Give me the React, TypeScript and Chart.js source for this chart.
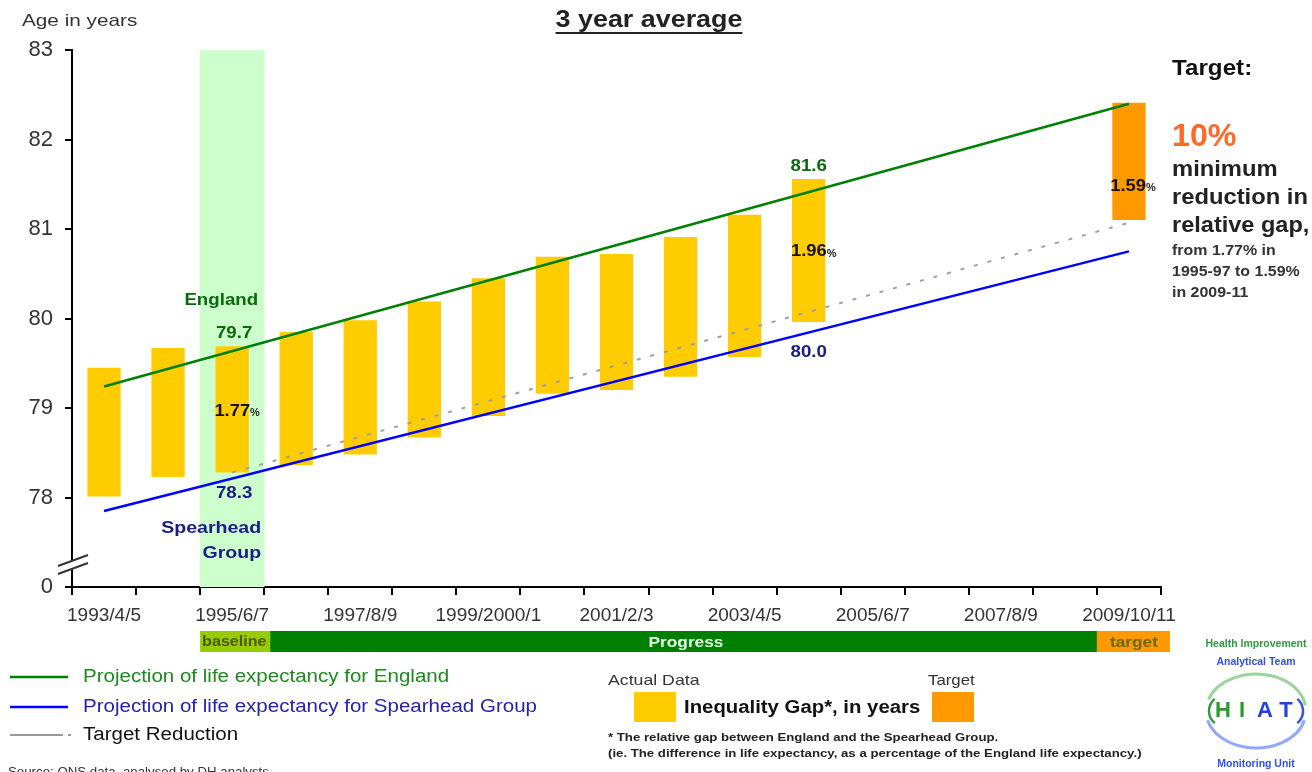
import React, { useEffect, useRef } from "react";
import { Chart, registerables } from "chart.js";

Chart.register(...registerables);

const FONT = "'Liberation Sans', Arial, Helvetica, sans-serif";

// ---- data ----
const periods: string[] = [
  "1993/4/5", "1994/5/6", "1995/6/7", "1996/7/8", "1997/8/9", "1998/9/2000",
  "1999/2000/1", "2000/1/2", "2001/2/3", "2002/3/4", "2003/4/5", "2004/5/6",
  "2005/6/7", "2006/7/8", "2007/8/9", "2008/9/10", "2009/10/11",
];
// Actual data: England (top) and Spearhead Group (bottom) life expectancy, 1993/4/5 .. 2004/5/6
const spearheadActual: number[] = [78.01, 78.23, 78.28, 78.36, 78.48, 78.67, 78.91, 79.16, 79.2, 79.35, 79.57, 79.96];
const englandActual: number[] = [79.45, 79.67, 79.69, 79.85, 79.98, 80.19, 80.45, 80.69, 80.72, 80.91, 81.16, 81.56];
// Target bar 2009/10/11
const targetLow: number[] = [81.1];
const targetHigh: number[] = [82.41];
// Projection lines (start / end values)
const englandProjection: (number | null)[] = [79.24, null, null, null, null, null, null, null, null, null, null, null, null, null, null, null, 82.4];
const spearheadProjection: (number | null)[] = [77.85, null, null, null, null, null, null, null, null, null, null, null, null, null, null, null, 80.75];
const targetReduction: (number | null)[] = [null, null, 78.28, null, null, null, null, null, null, null, null, null, null, null, null, null, 81.07];
// Relative gap labels
const relativeGapLabels: string[] = ["1.77", "1.96", "1.59"];
const baselineIndex = 2;
const latestIndex = 11;
const targetIndex = 16;
const yTicks: number[] = [77, 78, 79, 80, 81, 82, 83];

const gapData = periods.map((_, i) => (i < englandActual.length ? [spearheadActual[i], englandActual[i]] : null));
const targetData = periods.map((_, i) => (i === targetIndex ? [targetLow[0], targetHigh[0]] : null));
const baselineBand = periods.map((_, i) => (i === baselineIndex ? [yTicks[0], yTicks[yTicks.length - 1]] : null));

function txt(
  ctx: CanvasRenderingContext2D, s: string, x: number, y: number, font: string, color: string,
  align: CanvasTextAlign = "left", sx = 1, baseline: CanvasTextBaseline = "middle"
) {
  ctx.save();
  ctx.font = font;
  ctx.fillStyle = color;
  ctx.textAlign = align;
  ctx.textBaseline = baseline;
  ctx.translate(x, y);
  ctx.scale(sx, 1);
  ctx.fillText(s, 0, 0);
  ctx.restore();
}

function pct(ctx: CanvasRenderingContext2D, num: string, cx: number, cy: number) {
  ctx.save();
  ctx.font = `bold 17px ${FONT}`;
  const w1 = ctx.measureText(num).width * 1.08;
  ctx.font = `bold 11px ${FONT}`;
  const w2 = ctx.measureText("%").width;
  const start = cx - (w1 + w2) / 2;
  ctx.restore();
  txt(ctx, num, start, cy, `bold 17px ${FONT}`, "#111", "left", 1.08);
  txt(ctx, "%", start + w1, cy + 2, `bold 11px ${FONT}`, "#222", "left", 1);
}

const overlay = {
  id: "overlay",
  afterDraw(chart: any) {
    const ctx: CanvasRenderingContext2D = chart.ctx;
    const xs = chart.scales.x;
    const ys = chart.scales.y;
    const area = chart.chartArea;
    const px = (i: number) => xs.getPixelForValue(i);
    const py = (v: number) => ys.getPixelForValue(v);
    const cw = px(1) - px(0);

    // Title & axis caption
    ctx.save();
    ctx.font = `bold 24px ${FONT}`;
    const tw = ctx.measureText("3 year average").width * 1.12;
    ctx.restore();
    const tcx = 649;
    txt(ctx, "3 year average", tcx - tw / 2, 27, `bold 24px ${FONT}`, "#222", "left", 1.12, "alphabetic");
    ctx.save();
    ctx.strokeStyle = "#222";
    ctx.lineWidth = 2;
    ctx.beginPath();
    ctx.moveTo(tcx - tw / 2, 33);
    ctx.lineTo(tcx + tw / 2, 33);
    ctx.stroke();
    ctx.restore();
    txt(ctx, "Age in years", 22, 21, `17px ${FONT}`, "#333", "left", 1.22);

    // Axis break symbol
    const b = py(yTicks[0]);
    ctx.save();
    ctx.fillStyle = "#fff";
    ctx.beginPath();
    ctx.moveTo(area.left - 14, b - 21);
    ctx.lineTo(area.left + 16, b - 32);
    ctx.lineTo(area.left + 16, b - 24);
    ctx.lineTo(area.left - 14, b - 13);
    ctx.closePath();
    ctx.fill();
    ctx.strokeStyle = "#333";
    ctx.lineWidth = 2;
    ctx.beginPath();
    ctx.moveTo(area.left - 14, b - 21);
    ctx.lineTo(area.left + 16, b - 32);
    ctx.moveTo(area.left - 14, b - 13);
    ctx.lineTo(area.left + 16, b - 24);
    ctx.stroke();
    ctx.restore();

    // In-chart labels
    const xb = px(baselineIndex);
    txt(ctx, "England", xb + 26, py(englandActual[baselineIndex]) - 46, `bold 17px ${FONT}`, "#0a6a0a", "right", 1.1);
    txt(ctx, englandActual[baselineIndex].toFixed(1), xb + 2, py(englandActual[baselineIndex]) - 13, `bold 17px ${FONT}`, "#0a6a0a", "center", 1.1);
    pct(ctx, relativeGapLabels[0], xb + 5, (py(englandActual[baselineIndex]) + py(spearheadActual[baselineIndex])) / 2 + 2);
    txt(ctx, spearheadActual[baselineIndex].toFixed(1), xb + 2, py(spearheadActual[baselineIndex]) + 21, `bold 17px ${FONT}`, "#1a1a8a", "center", 1.1);
    txt(ctx, "Spearhead", xb + 29, py(spearheadActual[baselineIndex]) + 56, `bold 17px ${FONT}`, "#1a1a8a", "right", 1.15);
    txt(ctx, "Group", xb + 29, py(spearheadActual[baselineIndex]) + 81, `bold 17px ${FONT}`, "#1a1a8a", "right", 1.15);

    const xl = px(latestIndex);
    txt(ctx, englandActual[latestIndex].toFixed(1), xl, py(englandActual[latestIndex]) - 13, `bold 17px ${FONT}`, "#0a6a0a", "center", 1.1);
    pct(ctx, relativeGapLabels[1], xl + 5, (py(englandActual[latestIndex]) + py(spearheadActual[latestIndex])) / 2 + 1);
    txt(ctx, spearheadActual[latestIndex].toFixed(1), xl, py(spearheadActual[latestIndex]) + 30, `bold 17px ${FONT}`, "#1a1a8a", "center", 1.1);

    const xt = px(targetIndex);
    pct(ctx, relativeGapLabels[2], xt + 4, (py(targetHigh[0]) + py(targetLow[0])) / 2 + 25);

    // Right-hand target text
    const rx = 1172;
    txt(ctx, "Target:", rx, 69, `bold 22px ${FONT}`, "#111", "left", 1.1);
    txt(ctx, "10%", rx, 137, `bold 31px ${FONT}`, "#ff6a2a", "left", 1.04);
    txt(ctx, "minimum", rx, 170, `bold 22px ${FONT}`, "#222", "left", 1.08);
    txt(ctx, "reduction in", rx, 198, `bold 22px ${FONT}`, "#222", "left", 1.08);
    txt(ctx, "relative gap,", rx, 226, `bold 22px ${FONT}`, "#222", "left", 1.07);
    txt(ctx, "from 1.77% in", rx, 251, `bold 14px ${FONT}`, "#333", "left", 1.14);
    txt(ctx, "1995-97 to 1.59%", rx, 272, `bold 14px ${FONT}`, "#333", "left", 1.14);
    txt(ctx, "in 2009-11", rx, 293, `bold 14px ${FONT}`, "#333", "left", 1.14);

    // Phase bar under the x axis
    const barTop = 631, barH = 21;
    const l95 = px(baselineIndex) - cw / 2;
    const l96 = px(baselineIndex + 1) - cw / 2 + 6;
    const l09 = px(targetIndex) - cw / 2;
    ctx.save();
    ctx.fillStyle = "#99cc00";
    ctx.fillRect(l95, barTop, l96 - l95, barH);
    ctx.restore();
    txt(ctx, "baseline", l95 + 2, barTop + barH / 2 + 1, `bold 14px ${FONT}`, "#4a5a00", "left", 1.15);
    ctx.save();
    ctx.fillStyle = "#008000";
    ctx.fillRect(l96, barTop, l09 - l96, barH);
    ctx.fillStyle = "#ff9900";
    ctx.fillRect(l09, barTop, 73, barH);
    ctx.restore();
    txt(ctx, "Progress", 686, barTop + barH / 2 + 1, `bold 15px ${FONT}`, "#e8ffe8", "center", 1.15);
    txt(ctx, "target", l09 + 37, barTop + barH / 2 + 1, `bold 15px ${FONT}`, "#6b6a00", "center", 1.15);

    // Legend (lines)
    ctx.save();
    ctx.lineWidth = 2.5;
    ctx.strokeStyle = "#008000";
    ctx.beginPath(); ctx.moveTo(10, 677); ctx.lineTo(68, 677); ctx.stroke();
    ctx.strokeStyle = "#0000ff";
    ctx.beginPath(); ctx.moveTo(10, 707); ctx.lineTo(68, 707); ctx.stroke();
    ctx.strokeStyle = "#999";
    ctx.lineWidth = 2;
    ctx.setLineDash([53, 5, 3, 100]);
    ctx.beginPath(); ctx.moveTo(10, 735); ctx.lineTo(72, 735); ctx.stroke();
    ctx.restore();
    txt(ctx, "Projection of life expectancy for England", 83, 677, `18px ${FONT}`, "#1e8a1e", "left", 1.14);
    txt(ctx, "Projection of life expectancy for Spearhead Group", 83, 707, `18px ${FONT}`, "#2424a8", "left", 1.14);
    txt(ctx, "Target Reduction", 83, 735, `18px ${FONT}`, "#111", "left", 1.14);
    txt(ctx, "Source: ONS data, analysed by DH analysts", 8, 766, `13px ${FONT}`, "#333", "left", 1.02, "top");

    // Legend (boxes)
    txt(ctx, "Actual Data", 608, 681, `15px ${FONT}`, "#333", "left", 1.18);
    txt(ctx, "Target", 928, 681, `15px ${FONT}`, "#333", "left", 1.12);
    ctx.save();
    ctx.fillStyle = "#ffcc00";
    ctx.fillRect(634, 692, 42, 30);
    ctx.fillStyle = "#ff9900";
    ctx.fillRect(932, 692, 42, 30);
    ctx.restore();
    txt(ctx, "Inequality Gap*, in years", 684, 708, `bold 18px ${FONT}`, "#111", "left", 1.13);
    txt(ctx, "* The relative gap between England and the Spearhead Group.", 608, 738, `bold 11px ${FONT}`, "#222", "left", 1.2);
    txt(ctx, "(ie. The difference in life expectancy, as a percentage of the England life expectancy.)", 608, 754, `bold 11px ${FONT}`, "#222", "left", 1.2);

    // HIAT logo
    const lx = 1256, ly = 711;
    txt(ctx, "Health Improvement", lx, 644, `bold 10px ${FONT}`, "#2e9a3e", "center", 1.05);
    txt(ctx, "Analytical Team", lx, 662, `bold 10px ${FONT}`, "#3050f0", "center", 1.05);
    ctx.save();
    ctx.lineWidth = 3;
    ctx.strokeStyle = "#9ad49a";
    ctx.beginPath(); ctx.ellipse(lx, ly, 50, 37, 0, Math.PI * 1.1, Math.PI * 1.95); ctx.stroke();
    ctx.strokeStyle = "#90a8ff";
    ctx.beginPath(); ctx.ellipse(lx, ly, 50, 37, 0, Math.PI * 0.08, Math.PI * 0.92); ctx.stroke();
    ctx.lineWidth = 2.5;
    ctx.strokeStyle = "#3a9a3a";
    ctx.beginPath(); ctx.ellipse(1223, ly, 14, 15, 0, Math.PI * 0.7, Math.PI * 1.3); ctx.stroke();
    ctx.strokeStyle = "#3355ee";
    ctx.beginPath(); ctx.ellipse(1289, ly, 14, 15, 0, -Math.PI * 0.3, Math.PI * 0.3); ctx.stroke();
    ctx.restore();
    txt(ctx, "H", 1223, ly, `bold 22px ${FONT}`, "#2a9a2a", "center", 1);
    txt(ctx, "I", 1242, ly, `bold 22px ${FONT}`, "#2a9a2a", "center", 1);
    txt(ctx, "A", 1265, ly, `bold 22px ${FONT}`, "#2040e0", "center", 1);
    txt(ctx, "T", 1286, ly, `bold 22px ${FONT}`, "#2040e0", "center", 1);
    txt(ctx, "Monitoring Unit", lx, 764, `bold 10px ${FONT}`, "#3050f0", "center", 1.05);
  },
};

export default function App() {
  const ref = useRef<HTMLCanvasElement | null>(null);

  useEffect(() => {
    if (!ref.current) return;
    Chart.defaults.font.family = FONT;
    const chart = new Chart(ref.current, {
      type: "bar",
      data: {
        labels: periods,
        datasets: [
          {
            type: "line",
            label: "Projection of life expectancy for England",
            data: englandProjection,
            borderColor: "#008000",
            borderWidth: 2.5,
            pointRadius: 0,
            spanGaps: true,
            tension: 0,
            order: 1,
          } as any,
          {
            type: "line",
            label: "Projection of life expectancy for Spearhead Group",
            data: spearheadProjection,
            borderColor: "#0000ff",
            borderWidth: 2.5,
            pointRadius: 0,
            spanGaps: true,
            tension: 0,
            order: 1,
          } as any,
          {
            type: "line",
            label: "Target Reduction",
            data: targetReduction,
            borderColor: "#a0a0a0",
            borderWidth: 2,
            borderDash: [4, 10],
            pointRadius: 0,
            spanGaps: true,
            tension: 0,
            order: 2,
          } as any,
          {
            type: "bar",
            label: "Inequality Gap",
            data: gapData as any,
            backgroundColor: "#ffcc00",
            borderWidth: 0,
            barPercentage: 0.52,
            categoryPercentage: 1,
            grouped: false,
            order: 5,
          } as any,
          {
            type: "bar",
            label: "Target",
            data: targetData as any,
            backgroundColor: "#ff9900",
            borderWidth: 0,
            barPercentage: 0.52,
            categoryPercentage: 1,
            grouped: false,
            order: 5,
          } as any,
          {
            type: "bar",
            label: "Baseline",
            data: baselineBand as any,
            backgroundColor: "#ccffcc",
            borderWidth: 0,
            barPercentage: 1,
            categoryPercentage: 1,
            grouped: false,
            order: 10,
          } as any,
        ],
      },
      options: {
        responsive: false,
        animation: false,
        layout: { padding: { top: 50, right: 151, bottom: 0, left: 0 } },
        plugins: {
          legend: { display: false },
          title: { display: false },
          tooltip: { enabled: false },
        },
        scales: {
          x: {
            type: "category",
            offset: true,
            grid: {
              offset: true,
              drawOnChartArea: false,
              drawTicks: true,
              tickLength: 8,
              color: "#000",
              lineWidth: 2,
            },
            border: { display: true, color: "#000", width: 2 },
            ticks: {
              autoSkip: false,
              maxRotation: 0,
              minRotation: 0,
              padding: 9,
              color: "#333",
              font: { size: 19, family: FONT },
              callback: (_v: any, i: number) => (i % 2 === 0 ? periods[i] : ""),
            },
            afterFit: (s: any) => {
              s.height = 185;
            },
          },
          y: {
            min: yTicks[0],
            max: yTicks[yTicks.length - 1],
            grid: {
              drawOnChartArea: false,
              drawTicks: true,
              tickLength: 7,
              color: "#000",
              lineWidth: 2,
            },
            border: { display: true, color: "#000", width: 2 },
            afterBuildTicks: (s: any) => {
              s.ticks = yTicks.map((v) => ({ value: v }));
            },
            ticks: {
              padding: 12,
              color: "#333",
              font: { size: 22, family: FONT },
              callback: (v: any) => (v === yTicks[0] ? "0" : String(v)),
            },
            afterFit: (s: any) => {
              s.width = 72;
            },
          },
        },
      },
      plugins: [overlay],
    });
    return () => chart.destroy();
  }, []);

  return (
    <div style={{ position: "absolute", left: 0, top: 0, width: 1312, height: 772, background: "#fff", overflow: "hidden" }}>
      <canvas ref={ref} width={1312} height={772} style={{ display: "block" }} />
    </div>
  );
}
